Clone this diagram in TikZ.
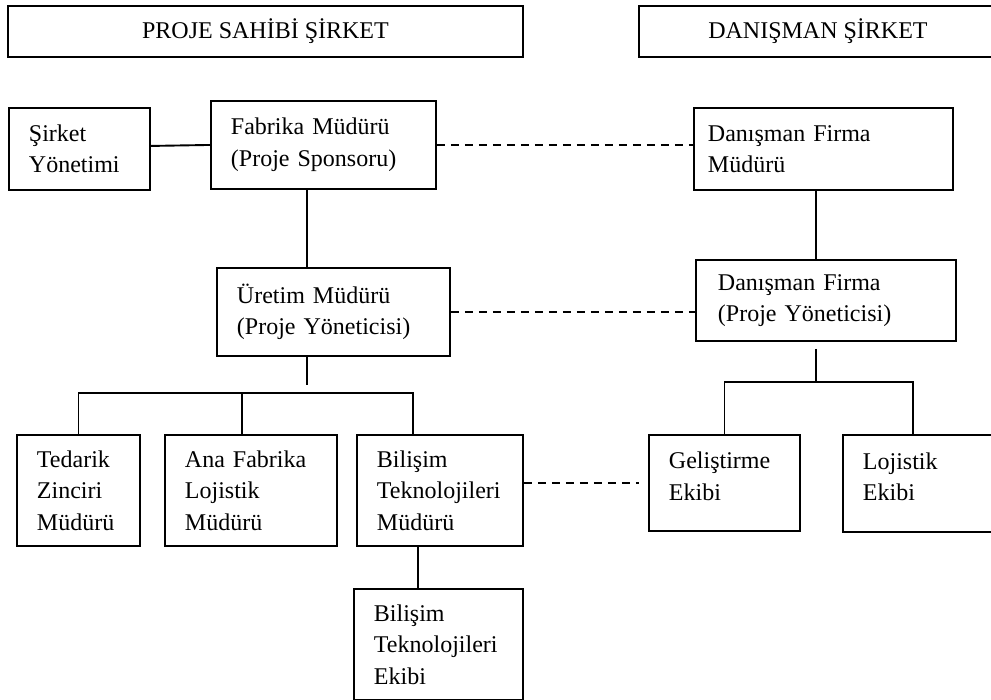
\documentclass[tikz,border=0pt]{standalone}
\usepackage{fontspec}
\setmainfont{Liberation Serif}
\usetikzlibrary{calc, positioning}
\tikzset{
  % one pt per pixel of the original chart, y running downwards
  every picture/.append style = {x=1pt, y=-1pt, line width=1.9pt},
  orgbox/.style   = {draw, line width=1.9pt, anchor=north west, align=left,
                     inner xsep=20pt, inner ysep=0pt,
                     font=\fontsize{24}{31.5}\selectfont},
  teambox/.style  = {orgbox, text depth=45pt},
  titlebox/.style = {draw, line width=1.9pt, anchor=north west, inner sep=0pt,
                     font=\fontsize{24}{31.5}\selectfont},
  link/.style     = {line width=1.9pt},
  dashlink/.style = {line width=1.9pt, dash pattern=on 8pt off 6pt},
}

\begin{document}
\begin{tikzpicture}
  \useasboundingbox (0,0) rectangle (991,700);
  % the two companies
  \node[titlebox, minimum width=515pt, minimum height=51pt] (owner) at (7,5) {PROJE SAHİBİ ŞİRKET};
  \node[titlebox, minimum width=358pt, minimum height=51pt] (consult) at (638,5) {DANIŞMAN ŞİRKET};
  % owner side
  \node[orgbox, text width=101pt, minimum height=82pt] (yonetim) at (8,107) {Şirket\\Yönetimi};
  \node[orgbox, text width=185pt, minimum height=88pt] (fabrika) at (210,100) {Fabrika Müdürü\\(Proje Sponsoru)};
  \node[orgbox, text width=193pt, minimum height=88pt] (uretim) at (216,267) {Üretim Müdürü\\(Proje Yöneticisi)};
  \node[orgbox, text width=83pt, minimum height=111pt] (tedarik) at (16,434) {Tedarik\\Zinciri\\Müdürü};
  \node[orgbox, text width=132pt, minimum height=111pt] (anafab) at (164,434) {Ana Fabrika\\Lojistik\\Müdürü};
  \node[orgbox, text width=126pt, minimum height=111pt] (bilisimm) at (356,434) {Bilişim\\Teknolojileri\\Müdürü};
  \node[orgbox, text width=129pt, minimum height=111pt] (btekibi) at (353,588) {Bilişim\\Teknolojileri\\Ekibi};
  % consultant side
  \node[orgbox, inner xsep=14pt, text width=231pt, minimum height=82pt] (dfmudur) at (693,107) {Danışman Firma\\Müdürü};
  \node[orgbox, inner xsep=22pt, text width=216pt, minimum height=81pt] (dfproje) at (695,259) {Danışman Firma\\(Proje Yöneticisi)};
  \node[teambox, text width=111pt, minimum height=96pt] (gelistirme) at (648,434) {Geliştirme\\Ekibi};
  \node[teambox, text width=114pt, minimum height=97pt] (lojistik) at (842,434) {Lojistik\\Ekibi};

  % where the tree lines run
  \coordinate (lspine) at (307,0);
  \coordinate (lbar) at (307,393);
  \coordinate (ldrop2) at (242,434);
  \coordinate (ldrop3) at (413,434);
  \coordinate (rbar) at (816,382);
  \coordinate (rdrop2) at (913,434);

  % solid reporting lines
  \draw[link] ([yshift=3pt]yonetim.east) -- (fabrika.west);
  \draw[link] (fabrika.south -| lspine) -- (uretim.north -| lspine);
  \draw[link] (uretim.south -| lspine) -- ++(0,28);
  \draw[link] (tedarik.north) |- (ldrop3 |- lbar) -- (ldrop3);
  \draw[link] (ldrop2) -- (ldrop2 |- lbar);
  \draw[link] ([xshift=-22pt]bilisimm.south) -- ([xshift=-22pt]bilisimm.south |- btekibi.north);
  \draw[link] (dfmudur.south -| rbar) -- (dfproje.north -| rbar);
  \draw[link] ([yshift=-7pt]dfproje.south -| rbar) -- (rbar);
  \draw[link] (gelistirme.north) |- (rbar) -| (rdrop2);

  % dashed links between the companies
  \draw[dashlink] (fabrika.east) -- (fabrika.east -| dfmudur.west);
  \draw[dashlink] (uretim.east) -- (uretim.east -| dfproje.west);
  \draw[dashlink] (bilisimm.east |- gelistirme.west) -- ([xshift=-9pt]gelistirme.west);
\end{tikzpicture}
\end{document}
